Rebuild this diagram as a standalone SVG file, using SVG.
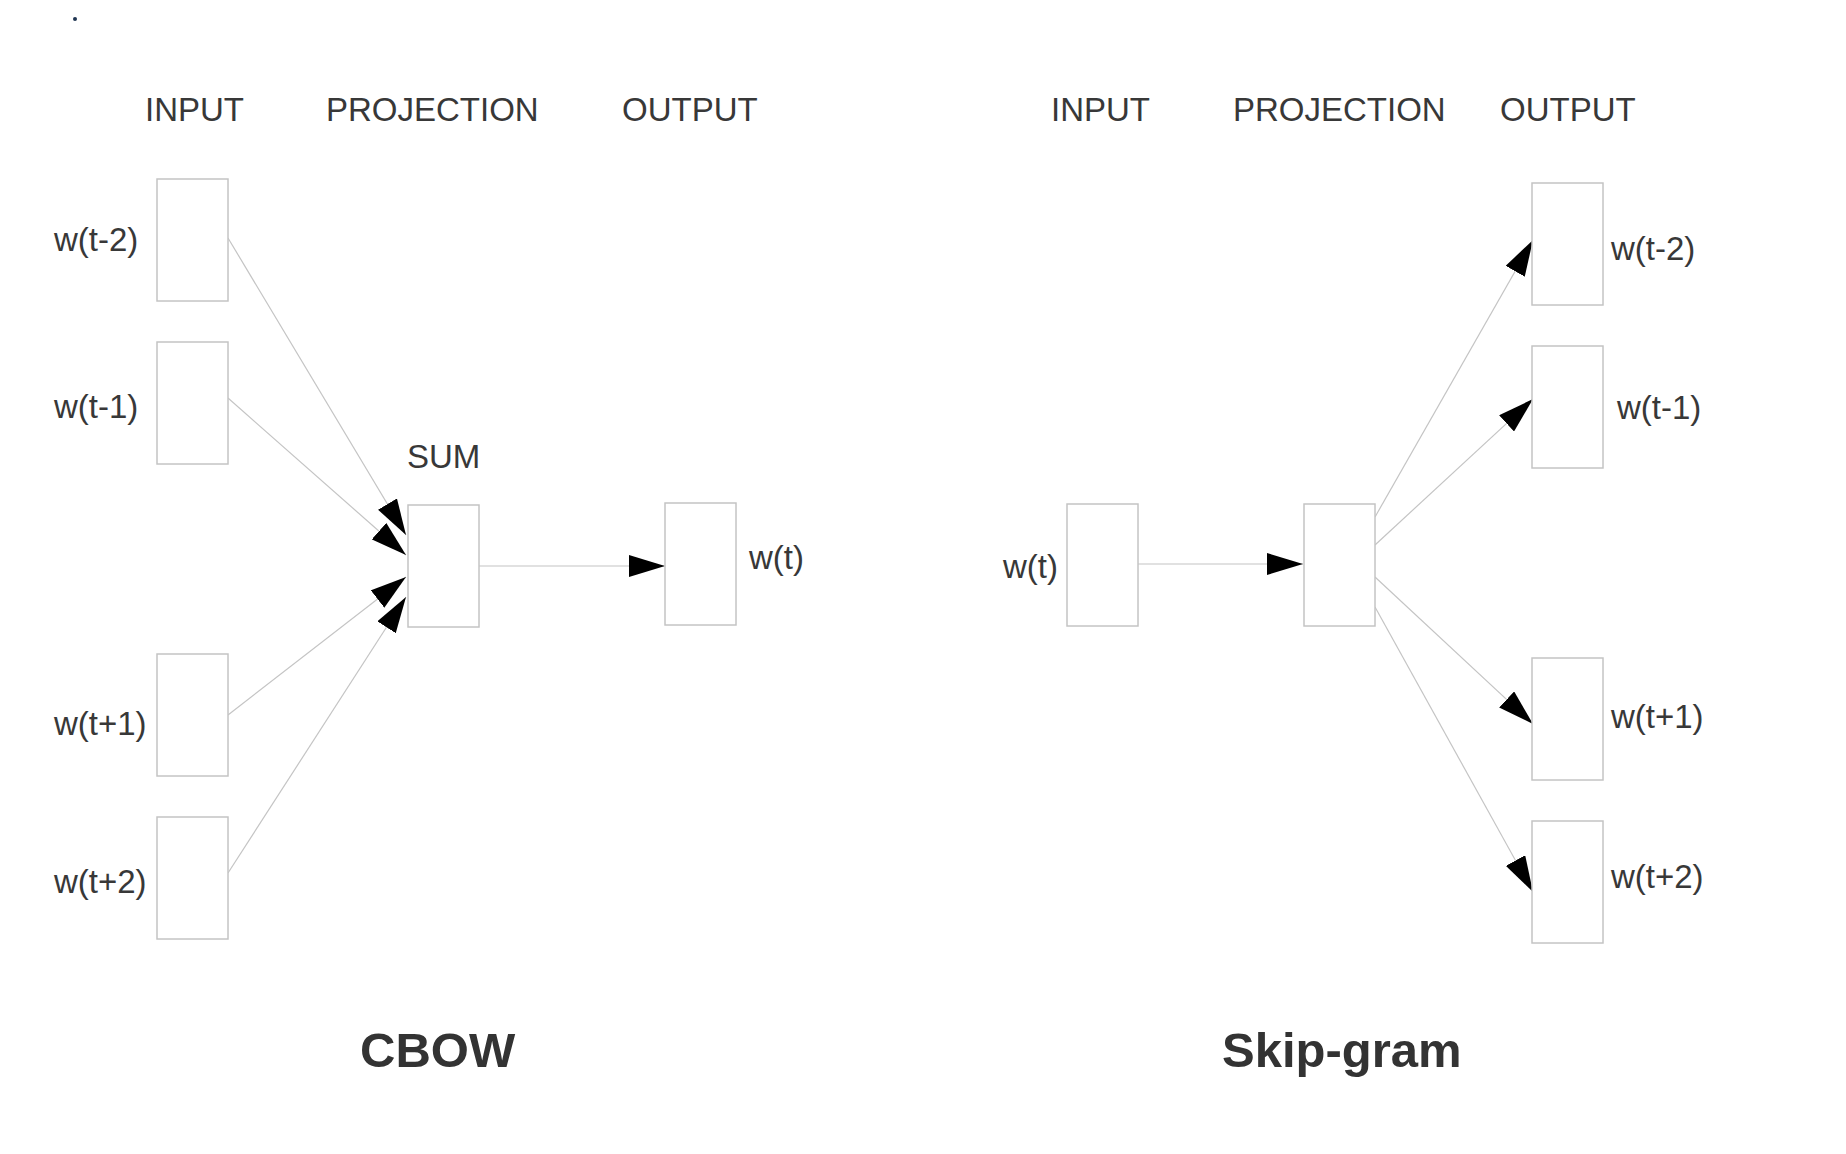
<svg xmlns="http://www.w3.org/2000/svg" width="1846" height="1154" viewBox="0 0 1846 1154">
<defs>
<style>
.box{fill:#fff;stroke:#c4c4c4;stroke-width:1.5}
.edge{stroke:#c4c4c4;stroke-width:1.2;fill:none}
.lbl{font-family:"Liberation Sans",Arial,sans-serif;font-size:33px;fill:#383838}
.ttl{font-family:"Liberation Sans",Arial,sans-serif;font-size:49px;font-weight:bold;fill:#333}
</style>
<marker id="ah" markerUnits="userSpaceOnUse" markerWidth="36" markerHeight="22" refX="36" refY="11" orient="auto">
<path d="M0,0 L36,11 L0,22 z" fill="#000"/>
</marker>
</defs>
<rect width="1846" height="1154" fill="#fff"/>
<circle cx="75" cy="19" r="2" fill="#1f3552"/>

<g id="headers">
<text class="lbl" x="145" y="121">INPUT</text>
<text class="lbl" x="326" y="121">PROJECTION</text>
<text class="lbl" x="622" y="121">OUTPUT</text>
<text class="lbl" x="1051" y="121">INPUT</text>
<text class="lbl" x="1233" y="121">PROJECTION</text>
<text class="lbl" x="1500" y="121">OUTPUT</text>
</g>

<g id="connectors">
<line class="edge" x1="228" y1="238" x2="406" y2="535" marker-end="url(#ah)"/>
<line class="edge" x1="228" y1="398" x2="406" y2="555" marker-end="url(#ah)"/>
<line class="edge" x1="228" y1="715" x2="406" y2="577" marker-end="url(#ah)"/>
<line class="edge" x1="228" y1="873" x2="406" y2="597" marker-end="url(#ah)"/>
<line class="edge" x1="477" y1="566" x2="665" y2="566" marker-end="url(#ah)"/>
<line class="edge" x1="1136" y1="564" x2="1303" y2="564" marker-end="url(#ah)"/>
<line class="edge" x1="1375" y1="517" x2="1533" y2="240" marker-end="url(#ah)"/>
<line class="edge" x1="1375" y1="545" x2="1533" y2="399" marker-end="url(#ah)"/>
<line class="edge" x1="1375" y1="577" x2="1533" y2="724" marker-end="url(#ah)"/>
<line class="edge" x1="1375" y1="607" x2="1533" y2="892" marker-end="url(#ah)"/>
</g>

<g id="cbow-in-t-2"><rect class="box" x="157" y="179" width="71" height="122"/><text class="lbl" x="54" y="251">w(t-2)</text></g>
<g id="cbow-in-t-1"><rect class="box" x="157" y="342" width="71" height="122"/><text class="lbl" x="54" y="418">w(t-1)</text></g>
<g id="cbow-in-t+1"><rect class="box" x="157" y="654" width="71" height="122"/><text class="lbl" x="54" y="735">w(t+1)</text></g>
<g id="cbow-in-t+2"><rect class="box" x="157" y="817" width="71" height="122"/><text class="lbl" x="54" y="893">w(t+2)</text></g>
<g id="cbow-sum"><rect class="box" x="408" y="505" width="71" height="122"/><text class="lbl" x="407" y="468">SUM</text></g>
<g id="cbow-out"><rect class="box" x="665" y="503" width="71" height="122"/><text class="lbl" x="749" y="569">w(t)</text></g>

<g id="sg-in"><rect class="box" x="1067" y="504" width="71" height="122"/><text class="lbl" x="1003" y="578">w(t)</text></g>
<g id="sg-proj"><rect class="box" x="1304" y="504" width="71" height="122"/></g>
<g id="sg-out-t-2"><rect class="box" x="1532" y="183" width="71" height="122"/><text class="lbl" x="1611" y="260">w(t-2)</text></g>
<g id="sg-out-t-1"><rect class="box" x="1532" y="346" width="71" height="122"/><text class="lbl" x="1617" y="419">w(t-1)</text></g>
<g id="sg-out-t+1"><rect class="box" x="1532" y="658" width="71" height="122"/><text class="lbl" x="1611" y="728">w(t+1)</text></g>
<g id="sg-out-t+2"><rect class="box" x="1532" y="821" width="71" height="122"/><text class="lbl" x="1611" y="888">w(t+2)</text></g>

<g id="titles">
<text class="ttl" x="360" y="1067">CBOW</text>
<text class="ttl" x="1222" y="1067">Skip-gram</text>
</g>
</svg>
